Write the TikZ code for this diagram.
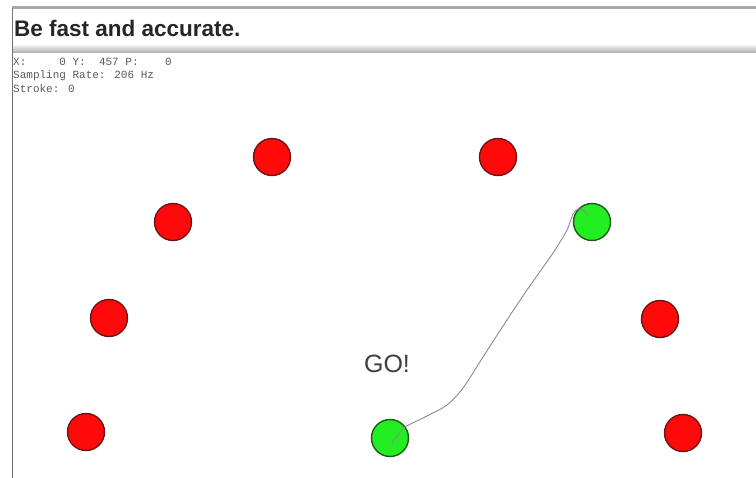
\documentclass[tikz,border=0pt]{standalone}
\usepackage{fontspec}
\setmainfont{Liberation Sans}
\newfontfamily\monofont{Liberation Mono}
\usepackage{tikz}
\definecolor{targetred}{HTML}{FF0A0A}
\definecolor{targetrim}{HTML}{6E1414}
\definecolor{hitgreen}{HTML}{22EE22}
\definecolor{hitrim}{HTML}{1C5A1C}
\definecolor{barline}{HTML}{A8A8AC}
\definecolor{inktrace}{HTML}{8C8C8C}

\begin{document}
\begin{tikzpicture}[x=1pt,y=-1pt]
  \tikzstyle{target}=[circle,minimum size=37pt,inner sep=0pt,fill=targetred,draw=targetrim,line width=1.4pt]
  \tikzstyle{hit}=[circle,minimum size=37pt,inner sep=0pt,fill=hitgreen,draw=hitrim,line width=1.4pt]
  \tikzstyle{status}=[anchor=west,inner sep=0pt,font=\monofont\fontsize{11}{11}\selectfont,text=black!65]

  \useasboundingbox (0,0) rectangle (756,478);

  % title bar
  \fill[white] (12,8) rectangle (756,50);
  \draw[barline,line width=3pt] (12,8) -- (756,8);
  \shade[top color=black!8,bottom color=black!33] (12,46) rectangle (756,53);
  \draw[black!55,line width=1.2pt] (12.5,8) -- (12.5,478);
  \node[anchor=west,inner sep=0pt,font=\bfseries\fontsize{22.5}{22.5}\selectfont,text=black!85] (title) at (14,28) {Be fast and accurate.};

  % status lines
  \node[status] (pos)    at (13,62) {X:\ \ \ \ \ 0 Y:\ \ 457 P:\ \ \ \ 0};
  \node[status] (rate)   at (13,76) {Sampling Rate: 206 Hz};
  \node[status] (stroke) at (13,89) {Stroke: 0};

  % targets
  \node[target] (t1) at (272,157) {};
  \node[target] (t2) at (498,157) {};
  \node[target] (t3) at (173,222) {};
  \node[target] (t4) at (109,318) {};
  \node[target] (t5) at (660,319) {};
  \node[target] (t6) at (86,432)  {};
  \node[target] (t7) at (683,433) {};

  \node[hit] (goal)  at (592,222) {};
  \node[hit] (start) at (390,438) {};

  \node[font=\fontsize{25}{25}\selectfont,text=black!75] (go) at (387,364) {GO!};

  % pen trace
  \draw[inktrace,line width=0.9pt,line join=round] plot[smooth,tension=0.5] coordinates
    {(392,444) (394,439) (399,434) (405,427) (425,417) (447,405) (463,388)
     (483,357) (507,320) (527,290) (553,253) (567,230) (573,214) (578,209)
     (584,211) (588,215)};
\end{tikzpicture}
\end{document}
